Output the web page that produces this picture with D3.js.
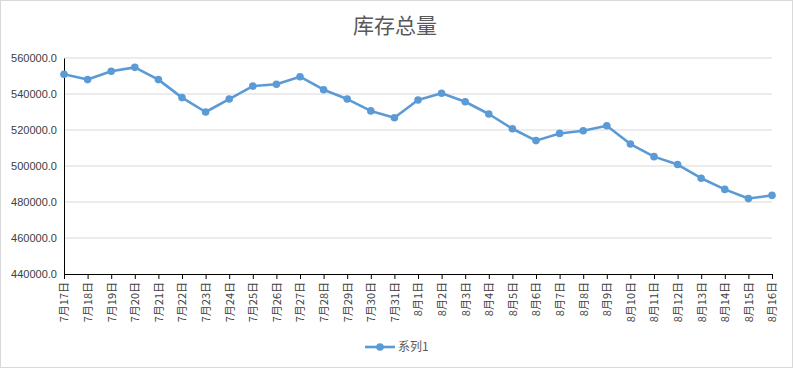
<!DOCTYPE html>
<html><head><meta charset="utf-8">
<script src="https://cdn.jsdelivr.net/npm/d3@7"></script>
<style>body{margin:0;background:#fff}svg{display:block}</style>
</head><body><svg id="c" width="793" height="368"></svg>
<script>
const title = "库存总量";
const seriesName = "系列1";
const categories = ["7月17日","7月18日","7月19日","7月20日","7月21日","7月22日","7月23日","7月24日","7月25日","7月26日","7月27日","7月28日","7月29日","7月30日","7月31日","8月1日","8月2日","8月3日","8月4日","8月5日","8月6日","8月7日","8月8日","8月9日","8月10日","8月11日","8月12日","8月13日","8月14日","8月15日","8月16日"];
const values = [551000,548000,552600,554800,548000,538000,530000,537200,544400,545400,549600,542400,537200,530600,526800,536700,540400,535700,528900,520700,514100,518100,519600,522400,512200,505200,500800,493200,487000,481900,483700];
const yTicks = [440000,460000,480000,500000,520000,540000,560000];

const svg = d3.select("#c");
const W = 793, H = 368;
const m = {left:64, right:21, top:58, bottom:94};
svg.append("rect").attr("x",0.5).attr("y",0.5).attr("width",W-1).attr("height",H-1).attr("fill","#fff").attr("stroke","#d9d9d9");

const x = d3.scalePoint().domain(categories).range([m.left, W - m.right]);
const y = d3.scaleLinear().domain([440000,560000]).range([H - m.bottom, m.top]);

// gridlines
svg.append("g").selectAll("line").data(yTicks.slice(1)).join("line")
  .attr("x1", m.left).attr("x2", W - m.right)
  .attr("y1", d => y(d)).attr("y2", d => y(d))
  .attr("stroke","#d9d9d9").attr("stroke-width",1);

// y axis
const yAxis = svg.append("g").attr("transform",`translate(${m.left},0)`)
  .call(d3.axisLeft(y).tickValues(yTicks).tickFormat(d => d3.format(".1f")(d)).tickSize(0).tickPadding(7));
yAxis.select(".domain").attr("stroke","#000");
yAxis.selectAll("text").attr("font-family","'Liberation Sans', Arial, sans-serif").attr("font-size","11px").attr("fill","#404040");

// x axis
const xAxis = svg.append("g").attr("transform",`translate(0,${H - m.bottom})`)
  .call(d3.axisBottom(x).tickSize(5).tickSizeOuter(0).tickPadding(4));
xAxis.select(".domain").attr("stroke","#000");
xAxis.selectAll(".tick line").attr("stroke","#000");
xAxis.selectAll("text")
  .attr("font-family","'Noto Sans CJK SC', sans-serif").attr("font-size","11px").attr("fill","#404040")
  .attr("transform","rotate(-90)").attr("text-anchor","end")
  .attr("x",-8).attr("y",0).attr("dy","0.35em");

// line
const color = "#5b9bd5";
svg.append("path").datum(values)
  .attr("fill","none").attr("stroke",color).attr("stroke-width",2.6).attr("stroke-linejoin","round")
  .attr("d", d3.line().x((d,i) => x(categories[i])).y(d => y(d)));
svg.append("g").selectAll("circle").data(values).join("circle")
  .attr("cx",(d,i) => x(categories[i])).attr("cy", d => y(d)).attr("r",3.8).attr("fill",color);

// title
svg.append("text").attr("x",395).attr("y",33).attr("text-anchor","middle")
  .attr("font-family","'Noto Sans CJK SC', sans-serif").attr("font-size","21px").attr("fill","#595959")
  .text(title);

// legend
const lg = svg.append("g");
lg.append("line").attr("x1",365).attr("x2",395).attr("y1",347).attr("y2",347).attr("stroke",color).attr("stroke-width",2.6);
lg.append("circle").attr("cx",380).attr("cy",347).attr("r",3.8).attr("fill",color);
lg.append("text").attr("x",398).attr("y",347).attr("dy","0.35em")
  .attr("font-family","'Noto Sans CJK SC', sans-serif").attr("font-size","12px").attr("fill","#595959").text(seriesName);
</script></body></html>
